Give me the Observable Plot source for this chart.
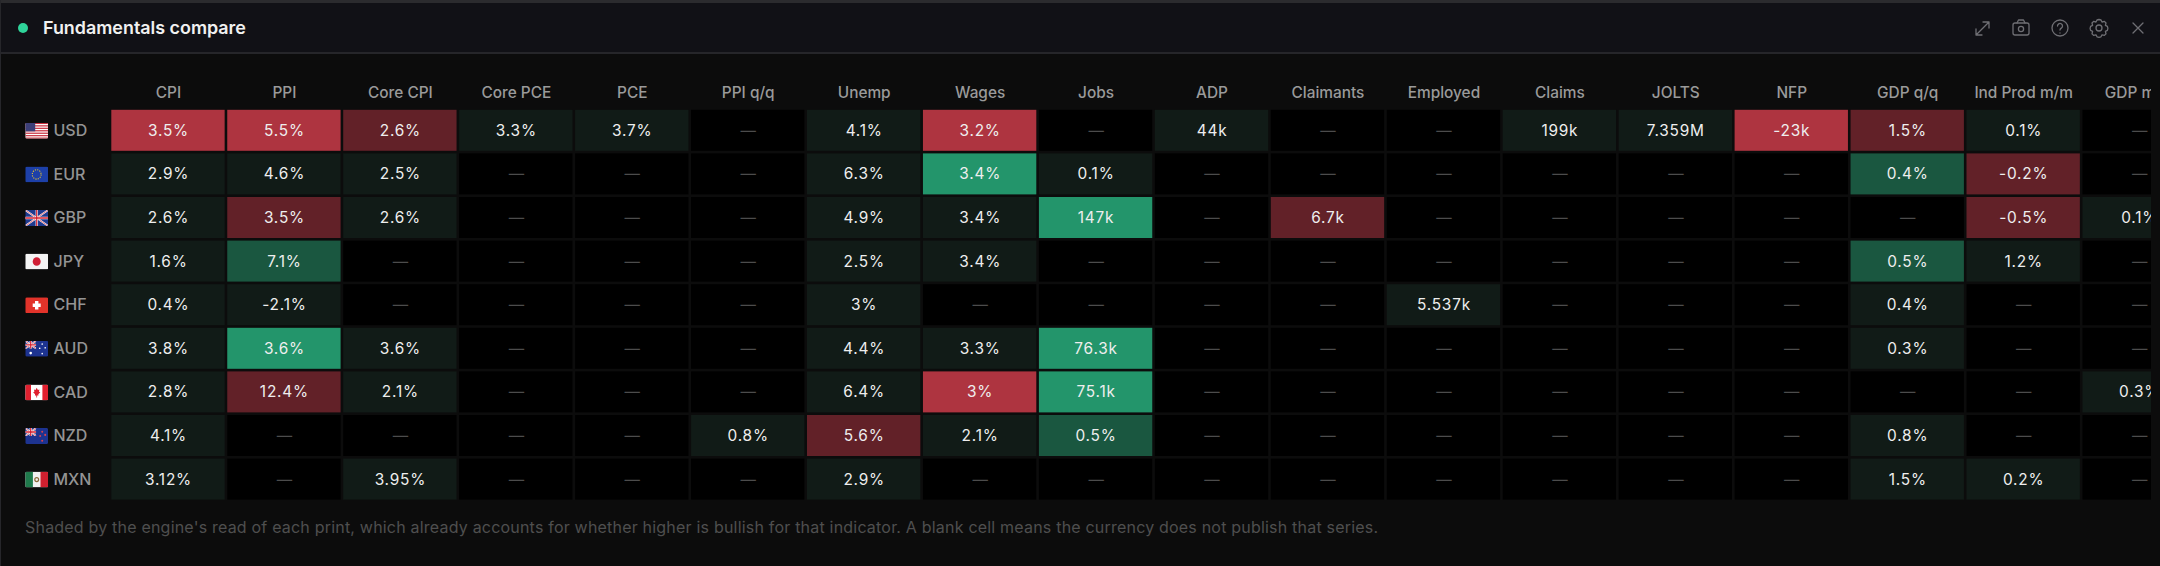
<!DOCTYPE html>
<html><head><meta charset="utf-8">
<script src="https://cdn.jsdelivr.net/npm/d3@7"></script>
<script src="https://cdn.jsdelivr.net/npm/@observablehq/plot@0.6"></script>
<style>
html,body{margin:0;padding:0;background:#0c0c0c;}
#panel{position:relative;width:2160px;height:566px;overflow:hidden;background:#0c0c0c;font-family:Inter,sans-serif;box-sizing:border-box;border-left:1px solid #26262a;}
#strip{height:3px;background:#2b2b2e;margin-left:-1px;}
#head{height:49px;background:#111116;border-bottom:2px solid #26262a;position:relative;margin-left:-1px;}
#dot{position:absolute;left:18px;top:20px;width:10px;height:10px;border-radius:50%;background:#2fd49a;}
#title{position:absolute;left:43px;top:0;line-height:50px;font-size:17.9px;font-weight:600;color:#f1f1f1;}
#icons{position:absolute;left:0;top:0;}
#chart{position:absolute;left:-1px;top:54px;}
#note{position:absolute;left:24px;top:517px;font-size:16px;letter-spacing:.2px;line-height:20px;color:#4f4f4f;white-space:nowrap;}
.vals{letter-spacing:.8px;}
</style></head>
<body>
<div id="panel">
<div id="strip"></div>
<div id="head"><div id="dot"></div><div id="title">Fundamentals compare</div>
<svg id="icons" width="2160" height="52" fill="none" stroke="#6f6f74" stroke-width="1.3" stroke-linecap="round" stroke-linejoin="round">
<path d="M1976 32l13-13M1989 25v-6h-6M1976 26v6h6"/>
<rect x="2013" y="20" width="16" height="12" rx="2"/><path d="M2017 20l1.500-3h5l1.500 3"/><circle cx="2021" cy="26" r="2.600"/>
<circle cx="2060" cy="25" r="8"/><path d="M2057.500 23a2.500 2.500 0 1 1 3.800 2.100c-.8.500-1.300 1-1.300 1.900M2060 30h0"/>
<circle cx="2099" cy="25" r="3"/><path d="M2099 16.500l2 .5 1 2 2.400-.6 1.600 1.600-.6 2.400 2 1 .5 2-.5 2-2 1 .6 2.400-1.600 1.600-2.400-.6-1 2-2 .5-2-.5-1-2-2.400.6-1.600-1.600.6-2.400-2-1-.5-2 .5-2 2-1-.6-2.400 1.600-1.600 2.400.6 1-2z"/>
<path d="M2133 20l10 10M2143 20l-10 10"/>
</svg></div>
<div id="chart"></div>
<div id="note">Shaded by the engine's read of each print, which already accounts for whether higher is bullish for that indicator. A blank cell means the currency does not publish that series.</div>
</div>
<script>
const currencies = ["USD","EUR","GBP","JPY","CHF","AUD","CAD","NZD","MXN"];
const indicators = ["CPI","PPI","Core CPI","Core PCE","PCE","PPI q/q","Unemp","Wages","Jobs","ADP","Claimants","Employed","Claims","JOLTS","NFP","GDP q/q","Ind Prod m/m","GDP m/m"];
const usdPrints = ["3.5%","5.5%","2.6%","3.3%","3.7%","","4.1%","3.2%","","44k","","","199k","7.359M","-23k","1.5%","0.1%",""];
const eurPrints = ["2.9%","4.6%","2.5%","","","","6.3%","3.4%","0.1%","","","","","","","0.4%","-0.2%",""];
const gbpPrints = ["2.6%","3.5%","2.6%","","","","4.9%","3.4%","147k","","6.7k","","","","","","-0.5%","0.1%"];
const jpyPrints = ["1.6%","7.1%","","","","","2.5%","3.4%","","","","","","","","0.5%","1.2%",""];
const chfPrints = ["0.4%","-2.1%","","","","","3%","","","","","5.537k","","","","0.4%","",""];
const audPrints = ["3.8%","3.6%","3.6%","","","","4.4%","3.3%","76.3k","","","","","","","0.3%","",""];
const cadPrints = ["2.8%","12.4%","2.1%","","","","6.4%","3%","75.1k","","","","","","","","","0.3%"];
const nzdPrints = ["4.1%","","","","","0.8%","5.6%","2.1%","0.5%","","","","","","","0.8%","",""];
const mxnPrints = ["3.12%","","3.95%","","","","2.9%","","","","","","","","","1.5%","0.2%",""];
// read of each print: n neutral, r bearish, R strong bearish, g bullish, G strong bullish, . none
const usdReads = "RRrnn.nR.n..nnRrn.";
const eurReads = "nnn...nGn......gr.";
const gbpReads = "nrn...nnG.r.....rn";
const jpyReads = "ng....nn.......gn.";
const chfReads = "nn....n....n...n..";
const audReads = "nGn...nnG......n..";
const cadReads = "nrn...nRG........n";
const nzdReads = "n....nrng......n..";
const mxnReads = "n.n...n........nn.";

const prints = [usdPrints,eurPrints,gbpPrints,jpyPrints,chfPrints,audPrints,cadPrints,nzdPrints,mxnPrints];
const reads = [usdReads,eurReads,gbpReads,jpyReads,chfReads,audReads,cadReads,nzdReads,mxnReads];
const table = currencies.flatMap((c,i)=>indicators.map((k,j)=>({currency:c,indicator:k,print:prints[i][j]||"—",read:reads[i][j]})));

const svgUri = (w,h,body)=>"data:image/svg+xml;utf8,"+encodeURIComponent(`<svg xmlns='http://www.w3.org/2000/svg' viewBox='0 0 ${w} ${h}' preserveAspectRatio='none'><defs><clipPath id='c'><rect width='${w}' height='${h}' rx='1.6'/></clipPath></defs><g clip-path='url(#c)'>${body}</g></svg>`);
const union = (w,h)=>`<rect width='${w}' height='${h}' fill='#1f3a8f'/><path d='M0 0L${w} ${h}M${w} 0L0 ${h}' stroke='#fff' stroke-width='1.6'/><path d='M0 0L${w} ${h}M${w} 0L0 ${h}' stroke='#d5202f' stroke-width='.6'/><path d='M${w/2} 0V${h}M0 ${h/2}H${w}' stroke='#fff' stroke-width='2.2'/><path d='M${w/2} 0V${h}M0 ${h/2}H${w}' stroke='#d5202f' stroke-width='1.2'/>`;
const flags = {
 USD: svgUri(23,15,`<rect width='23' height='15' fill='#fff'/>${[0,1,2,3,4,5,6].map(i=>`<rect y='${i*2.3}' width='23' height='1.15' fill='#c8303f'/>`).join("")}<rect width='10' height='8' fill='#3c3f78'/>`),
 EUR: svgUri(23,15,`<rect width='23' height='15' fill='#1d40a8'/><circle cx='11.500' cy='7.500' r='4.400' fill='none' stroke='#e6c02a' stroke-width='1.100' stroke-dasharray='1.100 1.200'/>`),
 GBP: svgUri(23,15,`<g transform='translate(0 0)'>${union(23,15)}</g>`),
 JPY: svgUri(23,15,`<rect width='23' height='15' fill='#f4f4f4'/><circle cx='11.500' cy='7.500' r='4' fill='#d01f35'/>`),
 CHF: svgUri(23,15,`<rect width='23' height='15' fill='#e2332a'/><path d='M9.800 3.500h3.400v2.300h2.300v3.400h-2.300v2.300H9.800V9.200H7.500V5.800h2.300z' fill='#fff'/>`),
 AUD: svgUri(23,15,`<rect width='23' height='15' fill='#1d3390'/><svg width='11' height='7.500' viewBox='0 0 11 7.500'>${union(11,7.5)}</svg><g fill='#fff'><circle cx='5.500' cy='11.500' r='1.300'/><circle cx='17' cy='3' r='.8'/><circle cx='20' cy='6.500' r='.8'/><circle cx='14.500' cy='7' r='.8'/><circle cx='17' cy='12' r='.8'/></g>`),
 CAD: svgUri(23,15,`<rect width='23' height='15' fill='#fff'/><rect width='5.800' height='15' fill='#e0202f'/><rect x='17.200' width='5.800' height='15' fill='#e0202f'/><path d='M11.500 3.200l1.200 2 1.500-.4-.4 2 1.300.6-2 1.900.2 1.200-1.400-.2v1.900h-.8v-1.900l-1.400.2.200-1.200-2-1.900 1.300-.6-.4-2 1.500.4z' fill='#e0202f'/>`),
 NZD: svgUri(23,15,`<rect width='23' height='15' fill='#1d3390'/><svg width='11' height='7.500' viewBox='0 0 11 7.500'>${union(11,7.5)}</svg><g fill='#d8434f'><circle cx='17' cy='3.500' r='1'/><circle cx='20' cy='6.500' r='1'/><circle cx='15' cy='7.500' r='1'/><circle cx='17' cy='12' r='1'/></g>`),
 MXN: svgUri(23,15,`<rect width='23' height='15' fill='#f1f1f1'/><rect width='7.700' height='15' fill='#1f7a4c'/><rect x='15.300' width='7.700' height='15' fill='#d0202f'/><circle cx='11.500' cy='7.500' r='1.900' fill='none' stroke='#8a6a3a' stroke-width='1.200'/>`)
};

const readKeys = ["n","r","R","g","G","."];
const readFills = ["#111b17","#622128","#ae3440","#1a5740","#23956b","#000000"];

const pitchX = 115.95;
const chart = Plot.plot({
  width: 2151, height: 451,
  marginLeft: 110, marginTop: 54.5, marginRight: 0, marginBottom: 4.1,
  style: {background:"transparent", overflow:"hidden", fontFamily:"Inter, sans-serif"},
  x: {type:"band", domain: indicators, range:[110,110+18*pitchX], padding:0, round:false},
  y: {type:"band", domain: currencies, padding:0, round:false},
  color: {domain: readKeys, range: readFills},
  marks: [
    Plot.axisX({anchor:"top", tickSize:0, tickPadding:11, fontSize:15.4, fontWeight:500, fill:"#9a9a9a", label:null}),
    Plot.axisY({anchor:"left", tickSize:0, tickPadding:57, textAnchor:"start", fontSize:16, fontWeight:500, fill:"#949494", label:null}),
    Plot.image(currencies,{y:d=>d, frameAnchor:"left", dx:-73.8, width:23, height:16, src:d=>flags[d], preserveAspectRatio:"none"}),
    Plot.cell(table,{x:"indicator", y:"currency", fill:"read", inset:1.3}),
    Plot.text(table.filter(d=>d.read!=="."),{x:"indicator", y:"currency", text:"print", fill:"#eeeeee", fontSize:15.4, className:"vals"}),
    Plot.text(table.filter(d=>d.read==="."),{x:"indicator", y:"currency", text:"print", fill:"#4c4c4c", fontSize:15.4})
  ]
});
document.getElementById("chart").append(chart);
</script>
</body></html>
